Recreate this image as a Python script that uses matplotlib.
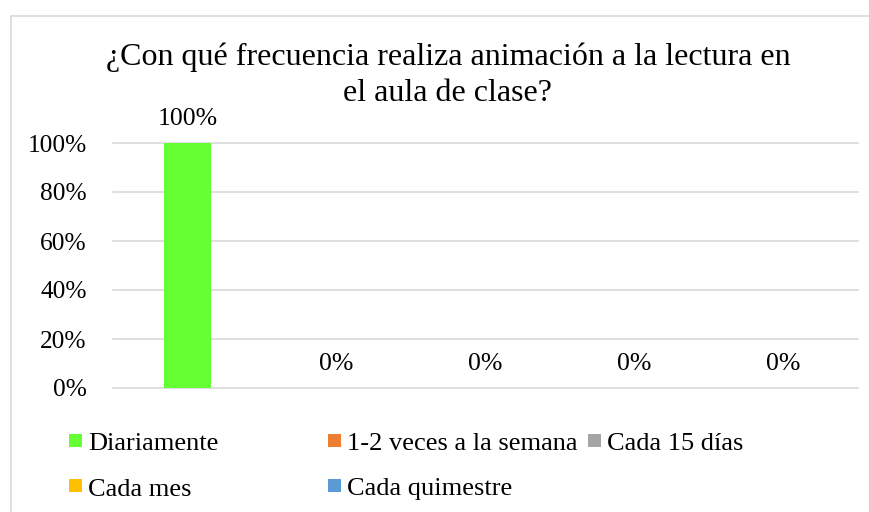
import matplotlib
matplotlib.use("Agg")
import matplotlib.pyplot as plt
from matplotlib.patches import Rectangle
import numpy as np

title = "¿Con qué frecuencia realiza animación a la lectura en\nel aula de clase?"
series = ["Diariamente", "1-2 veces a la semana", "Cada 15 días", "Cada mes", "Cada quimestre"]
values = [1.0, 0.0, 0.0, 0.0, 0.0]
colors = ["#66FF33", "#ED7D31", "#A5A5A5", "#FFC000", "#5B9BD5"]
yticks = [0, 0.2, 0.4, 0.6, 0.8, 1.0]
ytick_labels = ["0%", "20%", "40%", "60%", "80%", "100%"]

plt.rcParams['font.family'] = ['Liberation Serif', 'DejaVu Serif']

W, H = 870, 512
fig = plt.figure(figsize=(W / 100, H / 100), dpi=100)
fig.patch.set_facecolor("white")

def fx(px):
    return px / W

def fy(py):
    return 1 - py / H

# outer chart border
fig.add_artist(Rectangle((fx(11), fy(540)), fx(900) - fx(11), fy(16) - fy(540),
                         transform=fig.transFigure, fill=False, edgecolor="#D9D9D9", lw=1.2))

ax = fig.add_axes([fx(113), fy(388), fx(858) - fx(113), fy(143) - fy(388)])
x = np.arange(len(series))
bars = ax.bar(x, values, width=0.32, color=colors, zorder=3)
ax.set_xlim(-0.5, len(series) - 0.5)
ax.set_ylim(0, 1)
ax.set_yticks(yticks)
ax.set_yticklabels(ytick_labels, fontsize=18.3)
ax.tick_params(axis='y', length=0, pad=19)
ax.set_xticks([])
for s in ax.spines.values():
    s.set_visible(False)
for t in yticks:
    ax.axhline(t, color="#D9D9D9", lw=1.2, zorder=1, clip_on=False)

for xi, v in zip(x, values):
    ax.annotate(f"{v * 100:.0f}%", (xi, v), xytext=(0, 17.5), textcoords="offset points",
                ha="center", va="center", fontsize=18.5)

fig.text(fx(448), fy(75), title, ha="center", va="center", fontsize=23, linespacing=1.3)

# legend drawn manually (Excel-style layout)
leg_pos = [(69, 434), (328, 434), (588, 434), (69, 479), (328, 479)]
for (lx, ly), name, c in zip(leg_pos, series, colors):
    fig.add_artist(Rectangle((fx(lx), fy(ly + 13)), fx(13), 13 / H,
                             transform=fig.transFigure, facecolor=c, edgecolor="none"))
    fig.text(fx(lx + 19), fy(ly + 8), name, ha="left", va="center_baseline", fontsize=19)

fig.savefig("out.png", dpi=100, facecolor="white")
